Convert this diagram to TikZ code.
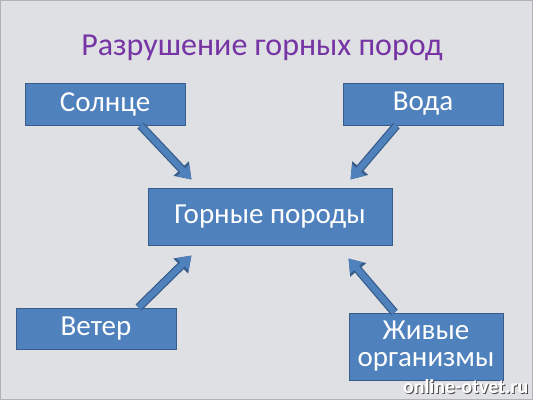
\documentclass[tikz,border=0pt]{standalone}
\usepackage{fontspec}
\setmainfont{Carlito}
\usetikzlibrary{arrows.meta, positioning}
\definecolor{boxblue}{RGB}{79,129,189}
\definecolor{boxedge}{RGB}{56,93,138}
\definecolor{titlepurple}{RGB}{118,52,164}
\definecolor{marble}{RGB}{222,224,227}

\begin{document}
\begin{tikzpicture}[x=1pt,y=-1pt,
    box/.style={draw=boxedge, fill=boxblue, line width=1pt, text=white, font=\fontsize{29}{30}\selectfont, inner sep=0pt, align=center},
    blockarrow/.style={preaction={draw=boxedge, line width=8.5pt, -{Triangle[length=15pt,width=20pt]}},
                       draw=boxblue, line width=6pt, -{Triangle[length=12.5pt,width=16pt]}}]
                \fill[marble] (0,0) rectangle (533,400);
                \draw[gray!60, line width=1pt] (0.5,0.5) rectangle (532.5,399.5);

                \node[text=titlepurple, font=\fontsize{32}{34}\selectfont] (title) at (262,48) {Разрушение горных пород};

                \node[box, minimum width=160pt, minimum height=42pt] (sun) at (105,104) {Солнце};
                \node[box, minimum width=160pt, minimum height=42pt] (water) at (423,104) {Вода};
                \node[box, minimum width=244pt, minimum height=57pt] (rocks) at (270,216.5) {Горные породы};
                \node[box, minimum width=160pt, minimum height=41pt] (wind) at (96,328.5) {Ветер};
                \node[box, minimum width=154pt, minimum height=67pt, text width=150pt] (life) at (426,346.5) {Живые\\[-3pt] организмы};

                \node[text=black!70, font=\bfseries\fontsize{20}{21}\selectfont, anchor=base east, inner sep=0pt] (markshadow) at (529.5,394.5) {online-otvet.ru};
                \node[text=white, font=\bfseries\fontsize{20}{21}\selectfont, anchor=base east, inner sep=0pt] (mark) at (528.5,393.5) {online-otvet.ru};

                \draw[blockarrow] ([xshift=-45pt]sun.south east) -- ([xshift=44pt,yshift=8pt]rocks.north west);
                \draw[blockarrow] ([xshift=54pt]water.south west) -- ([xshift=-42pt,yshift=8pt]rocks.north east);
                \draw[blockarrow] ([xshift=-38pt]wind.north east) -- ([xshift=44pt,yshift=-10pt]rocks.south west);
                \draw[blockarrow] ([xshift=46pt]life.north west) -- ([xshift=-44pt,yshift=-13pt]rocks.south east);
            \end{tikzpicture}
\end{document}
